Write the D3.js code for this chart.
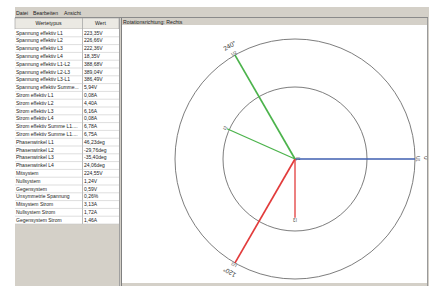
<!DOCTYPE html>
<html>
<head>
<meta charset="utf-8">
<script src="https://cdn.jsdelivr.net/npm/d3@7"></script>
<style>
  body { margin: 0; background: #fff; }
  svg { display: block; font-family: "Liberation Sans", Arial, sans-serif; }
</style>
</head>
<body>
<div id="main"></div>
<script>
// Tabelle
const menuItems = ["Datei", "Bearbeiten", "Ansicht"];
const colHeaders = ["Wertetypus", "Wert"];
const rowLabels = [
  "Spannung effektiv L1", "Spannung effektiv L2", "Spannung effektiv L3", "Spannung effektiv L4",
  "Spannung effektiv L1-L2", "Spannung effektiv L2-L3", "Spannung effektiv L3-L1", "Spannung effektiv Summe...",
  "Strom effektiv L1", "Strom effektiv L2", "Strom effektiv L3", "Strom effektiv L4",
  "Strom effektiv Summe L1....", "Strom effektiv Summe L1....",
  "Phasenwinkel L1", "Phasenwinkel L2", "Phasenwinkel L3", "Phasenwinkel L4",
  "Mitsystem", "Nullsystem", "Gegensystem", "Unsymmetrie Spannung",
  "Mitsystem Strom", "Nullsystem Strom", "Gegensystem Strom"
];
const rowValues = [
  "223,35V", "226,66V", "222,36V", "18,35V",
  "388,68V", "389,04V", "386,49V", "5,94V",
  "0,08A", "4,40A", "6,16A", "0,08A",
  "6,78A", "6,75A",
  "46,23deg", "-29,76deg", "-35,40deg", "24,06deg",
  "224,55V", "1,24V", "0,59V", "0,26%",
  "3,13A", "1,72A", "1,46A"
];

// Zeigerdiagramm
const panelTitle = "Rotationsrichtung: Rechts";
const ringValues = [0.6, 1.0];
const angleTicks = [0, 120, 240];
const vecNames   = ["U1", "U2", "U3", "I1", "I2", "I3"];
const vecAngles  = [0, 240, 120, 0, 204, 90];       // Grad, im Uhrzeigersinn ab rechts
const vecLengths = [1.0, 1.0, 1.0, 0.0, 0.62, 0.49]; // relativ zum Aussenkreis
const vecColors  = ["#3f5fb0", "#4cb34c", "#e23c3c", "#3f5fb0", "#4cb34c", "#e23c3c"];

const ctx = {
  W: 430, H: 286,
  winX: 15, winY: 7, winX1: 429,
  tableX0: 15, tableX1: 82, tableX2: 119,
  headY: 18, bodyY: 29, rowH: 7.8,
  panelX0: 122, panelX1: 427, panelY0: 18, panelY1: 283,
  cx: 295, cy: 159, R: 120
};

const svg = d3.select("#main").append("svg")
  .attr("width", ctx.W).attr("height", ctx.H);

// Fensterhintergrund
svg.append("rect").attr("x", ctx.winX).attr("y", ctx.winY)
  .attr("width", ctx.winX1 - ctx.winX).attr("height", ctx.H - ctx.winY)
  .attr("fill", "#d4d0c8");

// Menue
const menuX = [16, 33, 64];
svg.selectAll(".menu").data(menuItems).enter().append("text")
  .attr("x", (d, i) => menuX[i]).attr("y", 14.5)
  .attr("font-size", 5.2).attr("fill", "#222").text(d => d);
svg.append("line").attr("x1", ctx.winX).attr("x2", ctx.panelX1 + 1)
  .attr("y1", 17.5).attr("y2", 17.5).attr("stroke", "#8a8a8a").attr("stroke-width", 1);

// Tabelle
const yRow = d3.scaleBand().domain(d3.range(rowLabels.length))
  .range([ctx.bodyY, ctx.bodyY + rowLabels.length * ctx.rowH]);
const tableBottom = ctx.bodyY + rowLabels.length * ctx.rowH;

const table = svg.append("g");
table.append("rect").attr("x", ctx.tableX0).attr("y", ctx.headY)
  .attr("width", ctx.tableX2 - ctx.tableX0).attr("height", ctx.bodyY - ctx.headY)
  .attr("fill", "#ebe9e3").attr("stroke", "#9a9a9a").attr("stroke-width", 0.6);
table.append("rect").attr("x", ctx.tableX0).attr("y", ctx.bodyY)
  .attr("width", ctx.tableX2 - ctx.tableX0).attr("height", tableBottom - ctx.bodyY)
  .attr("fill", "#fff");
table.append("line").attr("x1", ctx.tableX1 + 0.5).attr("x2", ctx.tableX1 + 0.5)
  .attr("y1", ctx.headY).attr("y2", tableBottom).attr("stroke", "#a8a8a8").attr("stroke-width", 0.8);
table.selectAll(".grid").data(d3.range(rowLabels.length)).enter().append("line")
  .attr("x1", ctx.tableX0).attr("x2", ctx.tableX2)
  .attr("y1", i => yRow(i) + yRow.bandwidth()).attr("y2", i => yRow(i) + yRow.bandwidth())
  .attr("stroke", "#c8c8c8").attr("stroke-width", 0.6);
table.append("line").attr("x1", ctx.tableX2 + 0.5).attr("x2", ctx.tableX2 + 0.5)
  .attr("y1", ctx.headY).attr("y2", ctx.H).attr("stroke", "#a0a0a0");

table.selectAll(".head").data(colHeaders).enter().append("text")
  .attr("x", (d, i) => i === 0 ? (ctx.tableX0 + ctx.tableX1) / 2 : (ctx.tableX1 + ctx.tableX2) / 2)
  .attr("y", 25.3).attr("text-anchor", "middle")
  .attr("font-size", 5.2).attr("fill", "#222").text(d => d);

table.selectAll(".lab").data(rowLabels).enter().append("text")
  .attr("x", ctx.tableX0 + 1).attr("y", (d, i) => yRow(i) + 5.6)
  .attr("font-size", 5).attr("fill", "#222").text(d => d);
table.selectAll(".val").data(rowValues).enter().append("text")
  .attr("x", ctx.tableX1 + 2).attr("y", (d, i) => yRow(i) + 5.6)
  .attr("font-size", 5).attr("fill", "#222").text(d => d);

// Panel rechts
svg.append("line").attr("x1", ctx.panelX0 - 0.5).attr("x2", ctx.panelX0 - 0.5)
  .attr("y1", ctx.panelY0).attr("y2", ctx.H).attr("stroke", "#808080");
svg.append("text").attr("x", ctx.panelX0 + 1).attr("y", 23.8)
  .attr("font-size", 5.2).attr("fill", "#222").text(panelTitle);
svg.append("rect").attr("x", ctx.panelX0).attr("y", 25)
  .attr("width", ctx.panelX1 - ctx.panelX0).attr("height", ctx.panelY1 - 25)
  .attr("fill", "#fff");
svg.append("line").attr("x1", ctx.panelX1 + 0.5).attr("x2", ctx.panelX1 + 0.5)
  .attr("y1", ctx.panelY0).attr("y2", ctx.H).attr("stroke", "#9a9a9a");

svg.append("clipPath").attr("id", "clip").append("rect")
  .attr("x", ctx.panelX0).attr("y", 25)
  .attr("width", ctx.panelX1 - ctx.panelX0).attr("height", ctx.panelY1 - 25);

const chart = svg.append("g").attr("clip-path", "url(#clip)")
  .append("g").attr("transform", `translate(${ctx.cx},${ctx.cy})`);

const r = d3.scaleLinear().domain([0, 1]).range([0, ctx.R]);
const rad = deg => (deg + 90) * Math.PI / 180;  // fuer d3.pointRadial

chart.selectAll(".ring").data(ringValues).enter().append("circle")
  .attr("r", d => r(d)).attr("fill", "none")
  .attr("stroke", "#6e6e6e").attr("stroke-width", 0.9);

chart.selectAll(".tick").data(angleTicks).enter().append("text")
  .attr("transform", d => {
    const [x, y] = d3.pointRadial(rad(d), r(1) + 11);
    return `translate(${x},${y}) rotate(${d + 90})`;
  })
  .attr("text-anchor", "middle").attr("dominant-baseline", "central")
  .attr("font-size", 6.5).attr("fill", "#333").text(d => d + "°");

const vecs = vecNames.map((n, i) => ({ n, a: vecAngles[i], l: vecLengths[i], c: vecColors[i], u: i < 3 }));

chart.selectAll(".vec").data(vecs.filter(d => d.l > 0)).enter().append("line")
  .attr("x1", 0).attr("y1", 0)
  .attr("x2", d => d3.pointRadial(rad(d.a), r(d.l))[0])
  .attr("y2", d => d3.pointRadial(rad(d.a), r(d.l))[1])
  .attr("stroke", d => d.c).attr("stroke-width", d => d.u ? 1.7 : 1.3);

chart.selectAll(".vlab").data(vecs).enter().append("text")
  .attr("transform", d => {
    const [x, y] = d3.pointRadial(rad(d.a), r(d.l) + 2);
    return `translate(${x},${y}) rotate(${d.a + 90})`;
  })
  .attr("text-anchor", "middle").attr("dominant-baseline", "central")
  .attr("font-size", 4.5).attr("fill", "#444").text(d => d.n);
</script>
</body>
</html>
